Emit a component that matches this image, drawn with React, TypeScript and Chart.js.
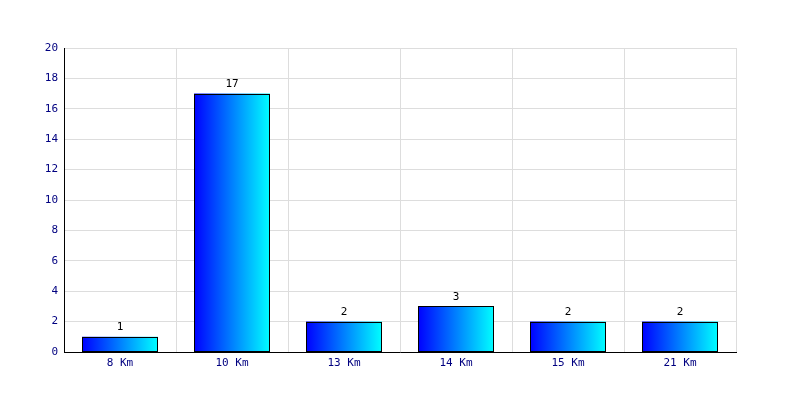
import React, { useEffect, useRef } from "react";
import { Chart, registerables } from "chart.js";

Chart.register(...registerables);

const categories = ["8 Km", "10 Km", "13 Km", "14 Km", "15 Km", "21 Km"];
const values = [1, 17, 2, 3, 2, 2];
const yTicks = [0, 2, 4, 6, 8, 10, 12, 14, 16, 18, 20];

const FONT = "'DejaVu Sans Mono', monospace";
const BAR_PCT = 76 / 112;

const barOutlines = {
  id: "barOutlines",
  afterDatasetsDraw(chart: any) {
    const ctx = chart.ctx;
    const meta = chart.getDatasetMeta(0);
    ctx.save();
    ctx.strokeStyle = "#000000";
    ctx.lineWidth = 1;
    meta.data.forEach((bar: any) => {
      const half = bar.width / 2;
      const l = Math.round(bar.x - half) + 0.5;
      const r = Math.round(bar.x + half) - 0.5;
      const t = Math.round(bar.y) + 0.5;
      const b = Math.round(bar.base) - 0.5;
      ctx.strokeRect(l, t, r - l, b - t);
    });
    ctx.restore();
  },
};

const valueLabels = {
  id: "valueLabels",
  afterDatasetsDraw(chart: any) {
    const ctx = chart.ctx;
    const meta = chart.getDatasetMeta(0);
    ctx.save();
    ctx.fillStyle = "#000000";
    ctx.font = `11px ${FONT}`;
    ctx.textAlign = "center";
    ctx.textBaseline = "bottom";
    meta.data.forEach((bar: any, i: number) => {
      ctx.fillText(String(values[i]), bar.x, bar.y - 4);
    });
    ctx.restore();
  },
};

export default function App() {
  const ref = useRef<HTMLCanvasElement | null>(null);
  useEffect(() => {
    if (!ref.current) return;
    const chart = new Chart(ref.current, {
      type: "bar",
      data: {
        labels: categories,
        datasets: [
          {
            data: values,
            backgroundColor: (c: any) => {
              const ch = c.chart;
              const xs = ch.scales && ch.scales.x;
              if (!xs || c.dataIndex === undefined) return "#0000ff";
              const center = xs.getPixelForValue(c.dataIndex);
              const w = ((xs.right - xs.left) / categories.length) * BAR_PCT;
              const x0 = center - w / 2;
              const x1 = center + w / 2;
              if (!isFinite(x0) || !isFinite(x1)) return "#0000ff";
              const g = ch.ctx.createLinearGradient(x0, 0, x1, 0);
              g.addColorStop(0, "#0000ff");
              g.addColorStop(1, "#00ffff");
              return g;
            },
            borderWidth: 0,
            barPercentage: BAR_PCT,
            categoryPercentage: 1,
          },
        ],
      },
      options: {
        animation: false,
        responsive: false,
        events: [],
        layout: { padding: { left: 0, right: 64, top: 48, bottom: 0 } },
        plugins: { legend: { display: false }, tooltip: { enabled: false } },
        scales: {
          x: {
            grid: { color: "#dddddd", drawTicks: false, offset: true },
            border: { color: "#000000", width: 1 },
            ticks: {
              color: "#000080",
              font: { family: FONT, size: 11 },
              padding: 5,
              maxRotation: 0,
            },
            afterFit: (s: any) => {
              s.height = 48;
            },
          },
          y: {
            min: 0,
            max: 20,
            grid: { color: "#dddddd", drawTicks: false },
            border: { color: "#000000", width: 1 },
            afterBuildTicks: (s: any) => {
              s.ticks = yTicks.map((v) => ({ value: v }));
            },
            ticks: {
              color: "#000080",
              font: { family: FONT, size: 11 },
              padding: 6,
            },
            afterFit: (s: any) => {
              s.width = 64;
            },
          },
        },
      },
      plugins: [barOutlines, valueLabels],
    });
    return () => chart.destroy();
  }, []);
  return (
    <div style={{ position: "fixed", left: 0, top: 0, width: 800, height: 400, background: "#fff" }}>
      <canvas ref={ref} width={800} height={400} style={{ width: 800, height: 400 }} />
    </div>
  );
}
